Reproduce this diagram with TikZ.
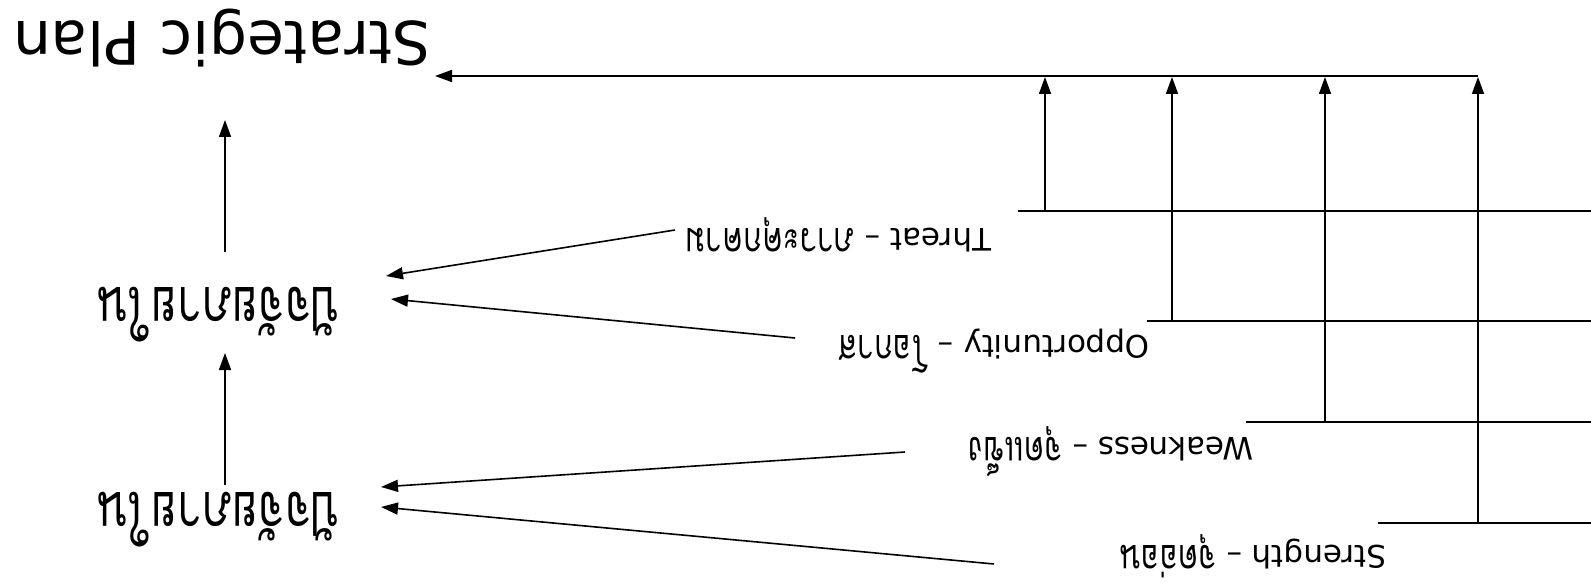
\documentclass[tikz,border=0pt]{standalone}
\usepackage{fontspec}
\setmainfont{DejaVu Sans}
\newfontfamily\thaifont[Script=Thai]{Loma}
\newcommand{\thtxt}[1]{{\thaifont\scalebox{1}[1.35]{#1}}}
\usetikzlibrary{arrows.meta,calc}
\begin{document}
\begin{tikzpicture}[x=1pt,y=-1pt,
  lbl/.style={rotate=180, anchor=base, inner sep=0pt, font=\fontsize{31}{37}\selectfont},
  big/.style={rotate=180, anchor=base, inner sep=0pt, font=\fontsize{45}{54}\selectfont},
  ttl/.style={rotate=180, anchor=base, inner sep=0pt, font=\fontsize{60}{72}\selectfont},
  arr/.style={-{Triangle[length=17pt,width=12pt]}, line width=1.6pt},
  ln/.style={line width=1.6pt}]
\useasboundingbox[fill=white] (0,0) rectangle (1591,583);
% title
\node[ttl] (sp) at (222,22) {Strategic Plan};
% left nodes
\node[big] (inA) at (219,287) {\thtxt{ปัจจัยภายใน}};
\node[big] (inB) at (219,492) {\thtxt{ปัจจัยภายใน}};
% labels
\node[lbl] (thr) at (838,229) {Threat – \thtxt{ภาวะคุกคาม}};
\node[lbl] (opp) at (994,335) {Opportunity – \thtxt{โอกาส}};
\node[lbl] (wea) at (1111,437) {Weakness – \thtxt{จุดแข็ง}};
\node[lbl] (str) at (1253,545) {Strength – \thtxt{จุดอ่อน}};
% horizontal base lines
\coordinate (h1) at (1018,211); \coordinate (h1e) at (1591,211);
\coordinate (h2) at (1147,321); \coordinate (h2e) at (1591,321);
\coordinate (h3) at (1246,422); \coordinate (h3e) at (1591,422);
\coordinate (h4) at (1378,523); \coordinate (h4e) at (1591,523);
\draw[ln] (h1) -- (h1e);
\draw[ln] (h2) -- (h2e);
\draw[ln] (h3) -- (h3e);
\draw[ln] (h4) -- (h4e);
% top line
\coordinate (tr) at (1478,76);
\coordinate (tl) at (435,76);
\draw[arr] (tr) -- (tl);
% vertical arrows
\coordinate (v1) at (1045,211); \coordinate (v1t) at (1045,77);
\coordinate (v2) at (1172,321); \coordinate (v2t) at (1172,77);
\coordinate (v3) at (1325,422); \coordinate (v3t) at (1325,77);
\coordinate (v4) at (1478,523); \coordinate (v4t) at (1478,77);
\draw[arr] (v1) -- (v1t);
\draw[arr] (v2) -- (v2t);
\draw[arr] (v3) -- (v3t);
\draw[arr] (v4) -- (v4t);
% diagonal arrows
\coordinate (t0) at (675,230); \coordinate (t1) at (386,276);
\coordinate (o0) at (795,338); \coordinate (o1) at (391,299);
\coordinate (w0) at (905,452); \coordinate (w1) at (381,487);
\coordinate (s0) at (994,564); \coordinate (s1) at (381,507);
\draw[arr] (t0) -- (t1);
\draw[arr] (o0) -- (o1);
\draw[arr] (w0) -- (w1);
\draw[arr] (s0) -- (s1);
% vertical arrows on the left
\coordinate (a0) at (225,485); \coordinate (a1) at (225,353);
\coordinate (b0) at (225,252); \coordinate (b1) at (225,120);
\draw[arr] (a0) -- (a1);
\draw[arr] (b0) -- (b1);
\end{tikzpicture}
\end{document}
